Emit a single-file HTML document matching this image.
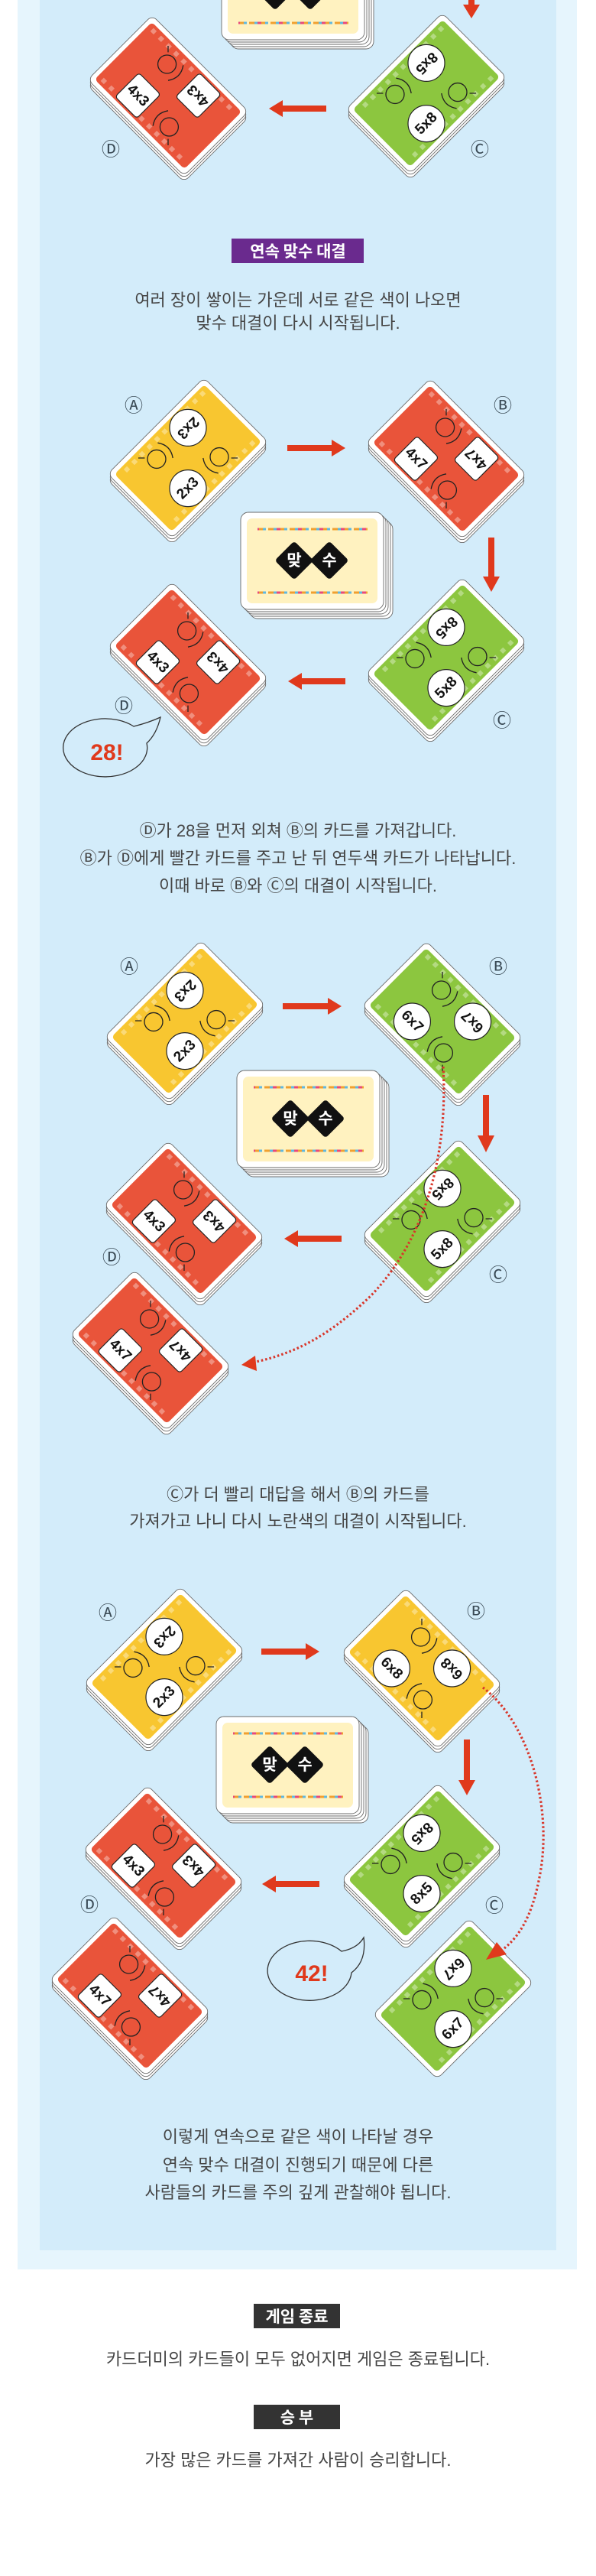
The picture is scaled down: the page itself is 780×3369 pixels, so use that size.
<!DOCTYPE html>
<html><head><meta charset="utf-8"><style>
html,body{margin:0;padding:0;background:#fff}
svg{display:block}
.cs{fill:#fff;stroke:#6a6a6a;stroke-width:.9}
.bt{font-family:"Liberation Sans","Noto Sans CJK KR",sans-serif;font-size:19px;font-weight:bold;fill:#111;text-anchor:middle;dominant-baseline:central}
.bub{fill:#fff;stroke:#222;stroke-width:1.2}
.tx{font-family:"Liberation Sans","Noto Sans CJK KR",sans-serif;font-size:22px;fill:#454545;text-anchor:middle}
.lb{font-family:"Liberation Sans","Noto Sans CJK KR",sans-serif;font-size:24px;fill:#3a4a55;text-anchor:middle;dominant-baseline:central}
.bd{font-family:"Noto Sans CJK KR","Liberation Sans",sans-serif;font-size:21px;font-weight:bold;fill:#fff;text-anchor:middle;dominant-baseline:central}
.ar{fill:#e0391c}
.dt{fill:none;stroke:#d8362a;stroke-width:3.2;stroke-dasharray:2.5 3}
.fc{fill:none;stroke:#222;stroke-width:1.3}
</style></head><body>
<svg width="780" height="3369" viewBox="0 0 780 3369" xmlns="http://www.w3.org/2000/svg">
<defs>
<g id="s45"><rect class="cs" x="-59.5" y="-89" width="119" height="178" rx="8" transform="translate(5.6,5.6)"/><rect class="cs" x="-59.5" y="-89" width="119" height="178" rx="8" transform="translate(2.8,2.8)"/><rect class="cs" x="-59.5" y="-89" width="119" height="178" rx="8"/></g>
<g id="sm45"><rect class="cs" x="-59.5" y="-89" width="119" height="178" rx="8" transform="translate(-5.6,5.6)"/><rect class="cs" x="-59.5" y="-89" width="119" height="178" rx="8" transform="translate(-2.8,2.8)"/><rect class="cs" x="-59.5" y="-89" width="119" height="178" rx="8"/></g>
<g id="dots"><path d="M46 -76V78M-46 -76V78" stroke="#fff" stroke-opacity=".35" stroke-width="6" stroke-dasharray="6 8"/></g>
<g id="faces"><circle class="fc" cx="28" cy="-30" r="12"/><path class="fc" d="M14 -14q14 10 28 0M40 -40l6 -6"/><circle class="fc" cx="-28" cy="30" r="12"/><path class="fc" d="M-42 14q14 -10 28 0M-40 40l-6 6"/></g>
<g id="deck"><rect class="cs" x="12" y="12" width="187" height="127" rx="10"/><rect class="cs" x="9" y="9" width="187" height="127" rx="10"/><rect class="cs" x="6" y="6" width="187" height="127" rx="10"/><rect class="cs" x="3" y="3" width="187" height="127" rx="10"/><rect class="cs" x="0" y="0" width="187" height="127" rx="10"/><rect x="8" y="8" width="171" height="111" rx="7" fill="#fff2c0"/>
<path d="M22 22H166M22 105H166" stroke="#f0a030" stroke-width="3" stroke-dasharray="8 6"/><path d="M22 22H166M22 105H166" stroke="#60b8e0" stroke-width="3" stroke-dasharray="6 8 4 10" stroke-dashoffset="7"/><path d="M22 22H166M22 105H166" stroke="#e84a7a" stroke-width="3" stroke-dasharray="5 23" stroke-dashoffset="3"/>
<rect x="-18" y="-18" width="36" height="36" rx="4" transform="translate(70,63) rotate(45)" fill="#111"/><rect x="-18" y="-18" width="36" height="36" rx="4" transform="translate(116,63) rotate(45)" fill="#111"/></g>
</defs>
<rect x="23" y="0" width="732" height="2968" fill="#e6f5fd"/>
<rect x="52" y="0" width="676" height="2943" fill="#d3ecfa"/>

<!-- SECTION 1 -->
<use href="#deck" x="290" y="-75"/>
<rect x="613" y="0" width="8" height="8" class="ar"/><path class="ar" d="M606 6H628L617 24Z"/>
<g transform="translate(220,125)"><g transform="rotate(-45)"><use href="#sm45"/><rect x="-53" y="-83" width="106" height="166" rx="5" fill="#e9543a"/><use href="#dots"/><use href="#faces"/><rect class="bub" x="-50" y="-48" width="44" height="40" rx="4"/><rect class="bub" x="6" y="8" width="44" height="40" rx="4"/><text class="bt" transform="translate(-28,-28) rotate(90)">4x3</text><text class="bt" transform="translate(28,28) rotate(-90)">4x3</text></g></g>
<g transform="translate(558,122)"><g transform="rotate(45)"><use href="#s45"/><rect x="-53" y="-83" width="106" height="166" rx="5" fill="#8cc63f"/><use href="#dots"/><use href="#faces"/><circle class="bub" cx="-28" cy="-28" r="24"/><circle class="bub" cx="28" cy="28" r="24"/><text class="bt" transform="translate(-28,-28) rotate(90)">8x5</text><text class="bt" transform="translate(28,28) rotate(-90)">5x8</text></g></g>
<rect class="ar" x="366" y="138" width="61" height="8"/><path class="ar" d="M352 142L370 131V153Z"/>
<text class="lb" x="145" y="196">Ⓓ</text><text class="lb" x="628" y="196">Ⓒ</text>
<rect x="303" y="312" width="173" height="32" fill="#6a2a8e"/><text class="bd" x="390" y="328">연속 맞수 대결</text>
<text class="tx" x="390" y="400">여러 장이 쌓이는 가운데 서로 같은 색이 나오면</text>
<text class="tx" x="390" y="430">맞수 대결이 다시 시작됩니다.</text>

<!-- SECTION 2 -->
<g transform="translate(246,599)"><g transform="rotate(45)"><use href="#s45"/><rect x="-53" y="-83" width="106" height="166" rx="5" fill="#f8c630"/><use href="#dots"/><use href="#faces"/><circle class="bub" cx="-28" cy="-28" r="24"/><circle class="bub" cx="28" cy="28" r="24"/><text class="bt" transform="translate(-28,-28) rotate(90)">2x3</text><text class="bt" transform="translate(28,28) rotate(-90)">2x3</text></g></g>
<g transform="translate(584,600)"><g transform="rotate(-45)"><use href="#sm45"/><rect x="-53" y="-83" width="106" height="166" rx="5" fill="#e9543a"/><use href="#dots"/><use href="#faces"/><rect class="bub" x="-50" y="-48" width="44" height="40" rx="4"/><rect class="bub" x="6" y="8" width="44" height="40" rx="4"/><text class="bt" transform="translate(-28,-28) rotate(90)">4x7</text><text class="bt" transform="translate(28,28) rotate(-90)">4x7</text></g></g>
<use href="#deck" x="315" y="670"/>
<text class="bd" x="385" y="732" font-size="24">맞</text><text class="bd" x="431" y="732" font-size="24">수</text>
<g transform="translate(246,866)"><g transform="rotate(-45)"><use href="#sm45"/><rect x="-53" y="-83" width="106" height="166" rx="5" fill="#e9543a"/><use href="#dots"/><use href="#faces"/><rect class="bub" x="-50" y="-48" width="44" height="40" rx="4"/><rect class="bub" x="6" y="8" width="44" height="40" rx="4"/><text class="bt" transform="translate(-28,-28) rotate(90)">4x3</text><text class="bt" transform="translate(28,28) rotate(-90)">4x3</text></g></g>
<g transform="translate(584,860)"><g transform="rotate(45)"><use href="#s45"/><rect x="-53" y="-83" width="106" height="166" rx="5" fill="#8cc63f"/><use href="#dots"/><use href="#faces"/><circle class="bub" cx="-28" cy="-28" r="24"/><circle class="bub" cx="28" cy="28" r="24"/><text class="bt" transform="translate(-28,-28) rotate(90)">8x5</text><text class="bt" transform="translate(28,28) rotate(-90)">5x8</text></g></g>
<rect class="ar" x="376" y="582" width="62" height="8"/><path class="ar" d="M452 586L434 575V597Z"/>
<rect class="ar" x="639" y="703" width="8" height="54"/><path class="ar" d="M632 754H654L643 774Z"/>
<rect class="ar" x="391" y="887" width="61" height="8"/><path class="ar" d="M377 891L395 880V902Z"/>
<text class="lb" x="175" y="531">Ⓐ</text><text class="lb" x="658" y="531">Ⓑ</text><text class="lb" x="162" y="924">Ⓓ</text><text class="lb" x="657" y="943">Ⓒ</text>
<path d="M175 950Q195 945 210 938Q205 960 192 972A55 38 0 1 1 175 950Z" fill="#d3ecfa" stroke="#333" stroke-width="1.3"/>
<text x="140" y="994" font-family="Liberation Sans,sans-serif" font-size="30" font-weight="bold" fill="#e0391c" text-anchor="middle">28!</text>
<text class="tx" x="390" y="1094">Ⓓ가 28을 먼저 외쳐 Ⓑ의 카드를 가져갑니다.</text>
<text class="tx" x="390" y="1130">Ⓑ가 Ⓓ에게 빨간 카드를 주고 난 뒤 연두색 카드가 나타납니다.</text>
<text class="tx" x="390" y="1166">이때 바로 Ⓑ와 Ⓒ의 대결이 시작됩니다.</text>

<!-- SECTION 3 -->
<g transform="translate(242,1335)"><g transform="rotate(45)"><use href="#s45"/><rect x="-53" y="-83" width="106" height="166" rx="5" fill="#f8c630"/><use href="#dots"/><use href="#faces"/><circle class="bub" cx="-28" cy="-28" r="24"/><circle class="bub" cx="28" cy="28" r="24"/><text class="bt" transform="translate(-28,-28) rotate(90)">2x3</text><text class="bt" transform="translate(28,28) rotate(-90)">2x3</text></g></g>
<g transform="translate(579,1336)"><g transform="rotate(-45)"><use href="#sm45"/><rect x="-53" y="-83" width="106" height="166" rx="5" fill="#8cc63f"/><use href="#dots"/><use href="#faces"/><circle class="bub" cx="-28" cy="-28" r="24"/><circle class="bub" cx="28" cy="28" r="24"/><text class="bt" transform="translate(-28,-28) rotate(90)">6x7</text><text class="bt" transform="translate(28,28) rotate(-90)">6x7</text></g></g>
<use href="#deck" x="310" y="1400"/>
<text class="bd" x="380" y="1462" font-size="24">맞</text><text class="bd" x="426" y="1462" font-size="24">수</text>
<g transform="translate(241,1597)"><g transform="rotate(-45)"><use href="#sm45"/><rect x="-53" y="-83" width="106" height="166" rx="5" fill="#e9543a"/><use href="#dots"/><use href="#faces"/><rect class="bub" x="-50" y="-48" width="44" height="40" rx="4"/><rect class="bub" x="6" y="8" width="44" height="40" rx="4"/><text class="bt" transform="translate(-28,-28) rotate(90)">4x3</text><text class="bt" transform="translate(28,28) rotate(-90)">4x3</text></g></g>
<g transform="translate(579,1594)"><g transform="rotate(45)"><use href="#s45"/><rect x="-53" y="-83" width="106" height="166" rx="5" fill="#8cc63f"/><use href="#dots"/><use href="#faces"/><circle class="bub" cx="-28" cy="-28" r="24"/><circle class="bub" cx="28" cy="28" r="24"/><text class="bt" transform="translate(-28,-28) rotate(90)">8x5</text><text class="bt" transform="translate(28,28) rotate(-90)">5x8</text></g></g>
<g transform="translate(197,1766)"><g transform="rotate(-45)"><use href="#sm45"/><rect x="-53" y="-83" width="106" height="166" rx="5" fill="#e9543a"/><use href="#dots"/><use href="#faces"/><rect class="bub" x="-50" y="-48" width="44" height="40" rx="4"/><rect class="bub" x="6" y="8" width="44" height="40" rx="4"/><text class="bt" transform="translate(-28,-28) rotate(90)">4x7</text><text class="bt" transform="translate(28,28) rotate(-90)">4x7</text></g></g>
<rect class="ar" x="370" y="1312" width="62" height="8"/><path class="ar" d="M447 1316L429 1305V1327Z"/>
<rect class="ar" x="632" y="1432" width="8" height="55"/><path class="ar" d="M625 1485H647L636 1507Z"/>
<rect class="ar" x="386" y="1616" width="61" height="8"/><path class="ar" d="M372 1620L390 1609V1631Z"/>
<text class="lb" x="169" y="1265">Ⓐ</text><text class="lb" x="652" y="1265">Ⓑ</text><text class="lb" x="146" y="1645">Ⓓ</text><text class="lb" x="652" y="1668">Ⓒ</text>
<path class="dt" d="M580 1395C586 1500 562 1615 485 1695C430 1748 385 1770 335 1781"/>
<path class="ar" d="M316 1785L334 1773L336 1793Z"/>
<text class="tx" x="390" y="1962">Ⓒ가 더 빨리 대답을 해서 Ⓑ의 카드를</text>
<text class="tx" x="390" y="1997">가져가고 나니 다시 노란색의 대결이 시작됩니다.</text>

<!-- SECTION 4 -->
<g transform="translate(215,2180)"><g transform="rotate(45)"><use href="#s45"/><rect x="-53" y="-83" width="106" height="166" rx="5" fill="#f8c630"/><use href="#dots"/><use href="#faces"/><circle class="bub" cx="-28" cy="-28" r="24"/><circle class="bub" cx="28" cy="28" r="24"/><text class="bt" transform="translate(-28,-28) rotate(90)">2x3</text><text class="bt" transform="translate(28,28) rotate(-90)">2x3</text></g></g>
<g transform="translate(552,2182)"><g transform="rotate(-45)"><use href="#sm45"/><rect x="-53" y="-83" width="106" height="166" rx="5" fill="#f8c630"/><use href="#dots"/><use href="#faces"/><circle class="bub" cx="-28" cy="-28" r="24"/><circle class="bub" cx="28" cy="28" r="24"/><text class="bt" transform="translate(-28,-28) rotate(90)">6x8</text><text class="bt" transform="translate(28,28) rotate(-90)">6x8</text></g></g>
<use href="#deck" x="283" y="2245"/>
<text class="bd" x="353" y="2307" font-size="24">맞</text><text class="bd" x="399" y="2307" font-size="24">수</text>
<g transform="translate(214,2440)"><g transform="rotate(-45)"><use href="#sm45"/><rect x="-53" y="-83" width="106" height="166" rx="5" fill="#e9543a"/><use href="#dots"/><use href="#faces"/><rect class="bub" x="-50" y="-48" width="44" height="40" rx="4"/><rect class="bub" x="6" y="8" width="44" height="40" rx="4"/><text class="bt" transform="translate(-28,-28) rotate(90)">4x3</text><text class="bt" transform="translate(28,28) rotate(-90)">4x3</text></g></g>
<g transform="translate(552,2437)"><g transform="rotate(45)"><use href="#s45"/><rect x="-53" y="-83" width="106" height="166" rx="5" fill="#8cc63f"/><use href="#dots"/><use href="#faces"/><circle class="bub" cx="-28" cy="-28" r="24"/><circle class="bub" cx="28" cy="28" r="24"/><text class="bt" transform="translate(-28,-28) rotate(90)">8x5</text><text class="bt" transform="translate(28,28) rotate(-90)">8x5</text></g></g>
<g transform="translate(170,2610)"><g transform="rotate(-45)"><use href="#sm45"/><rect x="-53" y="-83" width="106" height="166" rx="5" fill="#e9543a"/><use href="#dots"/><use href="#faces"/><rect class="bub" x="-50" y="-48" width="44" height="40" rx="4"/><rect class="bub" x="6" y="8" width="44" height="40" rx="4"/><text class="bt" transform="translate(-28,-28) rotate(90)">4x7</text><text class="bt" transform="translate(28,28) rotate(-90)">4x7</text></g></g>
<g transform="translate(593,2614)"><g transform="rotate(45)"><rect class="cs" x="-59.5" y="-89" width="119" height="178" rx="8"/><rect x="-53" y="-83" width="106" height="166" rx="5" fill="#8cc63f"/><use href="#dots"/><use href="#faces"/><circle class="bub" cx="-28" cy="-28" r="24"/><circle class="bub" cx="28" cy="28" r="24"/><text class="bt" transform="translate(-28,-28) rotate(90)">6x7</text><text class="bt" transform="translate(28,28) rotate(-90)">6x7</text></g></g>
<rect class="ar" x="342" y="2156" width="62" height="8"/><path class="ar" d="M418 2160L400 2149V2171Z"/>
<rect class="ar" x="607" y="2275" width="8" height="55"/><path class="ar" d="M600 2328H622L611 2348Z"/>
<rect class="ar" x="357" y="2460" width="61" height="8"/><path class="ar" d="M343 2464L361 2453V2475Z"/>
<text class="lb" x="141" y="2110">Ⓐ</text><text class="lb" x="623" y="2108">Ⓑ</text><text class="lb" x="117" y="2492">Ⓓ</text><text class="lb" x="647" y="2493">Ⓒ</text>
<path d="M447 2552Q468 2548 476 2534Q480 2565 460 2580A55 39 0 1 1 447 2552Z" fill="#d3ecfa" stroke="#333" stroke-width="1.3"/>
<text x="408" y="2591" font-family="Liberation Sans,sans-serif" font-size="30" font-weight="bold" fill="#e0391c" text-anchor="middle">42!</text>
<path class="dt" d="M632 2207C695 2255 725 2370 705 2460C696 2505 680 2532 660 2548"/>
<path class="ar" d="M636 2563L650 2540L663 2556Z"/>
<text class="tx" x="390" y="2802">이렇게 연속으로 같은 색이 나타날 경우</text>
<text class="tx" x="390" y="2839">연속 맞수 대결이 진행되기 때문에 다른</text>
<text class="tx" x="390" y="2875">사람들의 카드를 주의 깊게 관찰해야 됩니다.</text>

<!-- BOTTOM -->
<rect x="332" y="3013" width="113" height="32" fill="#333"/><text class="bd" x="388.5" y="3029">게임 종료</text>
<text class="tx" x="390" y="3093" fill="#333">카드더미의 카드들이 모두 없어지면 게임은 종료됩니다.</text>
<rect x="332" y="3145" width="113" height="32" fill="#333"/><text class="bd" x="388.5" y="3161">승 부</text>
<text class="tx" x="390" y="3225" fill="#333">가장 많은 카드를 가져간 사람이 승리합니다.</text>
</svg>
</body></html>
